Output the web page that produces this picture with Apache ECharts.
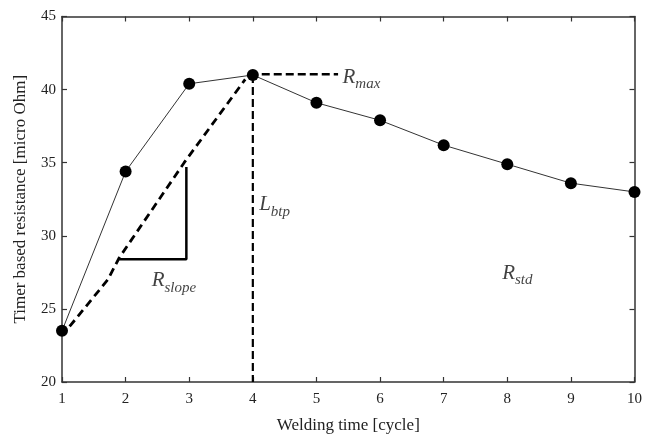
<!DOCTYPE html>
<html>
<head>
<meta charset="utf-8">
<script src="https://cdn.jsdelivr.net/npm/echarts@6/dist/echarts.min.js"></script>
<style>html,body{margin:0;padding:0;background:#fff;}#c{width:645px;height:439px;}</style>
</head>
<body>
<div id="c"></div>
<script>
var cycles = [1, 2, 3, 4, 5, 6, 7, 8, 9, 10];
var resistance = [23.5, 34.4, 40.4, 41.0, 39.1, 37.9, 36.2, 34.9, 33.6, 33.0];
var slopeLine = [[1.12, 23.8], [1.72, 27.0], [1.9, 28.5], [2.92, 35.0], [3.88, 40.7]];
var slopeTriangle = [[1.9, 28.4], [2.955, 28.4], [2.955, 34.7]];
var btpLine = [[4, 41.0], [4, 20]];
var maxLine = [[4.14, 41.05], [5.34, 41.05]];
var annotations = [
  {name: 'R', sub: 'max', x: 5.41, y: 40.8},
  {name: 'L', sub: 'btp', x: 4.1, y: 32.1},
  {name: 'R', sub: 'slope', x: 2.41, y: 26.9},
  {name: 'R', sub: 'std', x: 7.92, y: 27.4}
];
var xLabel = 'Welding time [cycle]';
var yLabel = 'Timer based resistance [micro Ohm]';

var chart = echarts.init(document.getElementById('c'), null, {renderer: 'canvas'});
var serif = '"Liberation Serif", "DejaVu Serif", serif';
var axisLine = {show: true, lineStyle: {color: '#333', width: 1.5}};
var tick = {show: true, inside: true, length: 5, lineStyle: {color: '#333', width: 1.2}};

chart.setOption({
  animation: false,
  backgroundColor: '#fff',
  grid: {left: 62, right: 6, top: 16.5, bottom: 56},
  xAxis: [{
    type: 'value', min: 1, max: 10, interval: 1,
    axisLine: axisLine, axisTick: tick, splitLine: {show: false},
    axisLabel: {color: '#222', fontFamily: serif, fontSize: 15, margin: 10},
    name: xLabel, nameLocation: 'middle', nameGap: 35,
    nameTextStyle: {color: '#222', fontFamily: serif, fontSize: 17}
  }, {
    type: 'value', position: 'top', min: 1, max: 10, interval: 1,
    axisLine: axisLine, axisTick: tick, axisLabel: {show: false}, splitLine: {show: false}
  }],
  yAxis: [{
    type: 'value', min: 20, max: 45, interval: 5,
    axisLine: axisLine, axisTick: tick, splitLine: {show: false},
    axisLabel: {color: '#222', fontFamily: serif, fontSize: 15, margin: 6},
    name: yLabel, nameLocation: 'middle', nameGap: 33, nameRotate: 90,
    nameTextStyle: {color: '#222', fontFamily: serif, fontSize: 17}
  }, {
    type: 'value', position: 'right', min: 20, max: 45, interval: 5,
    axisLine: axisLine, axisTick: tick, axisLabel: {show: false}, splitLine: {show: false}
  }],
  series: [
    {
      type: 'line', name: 'resistance', z: 5,
      data: cycles.map(function (c, i) { return [c, resistance[i]]; }),
      symbol: 'circle', symbolSize: 12,
      itemStyle: {color: '#000'},
      lineStyle: {color: '#333', width: 1}
    },
    {
      type: 'line', data: slopeLine, symbol: 'none',
      lineStyle: {color: '#000', width: 2.8, type: [8, 5]}
    },
    {
      type: 'line', data: slopeTriangle, symbol: 'none',
      lineStyle: {color: '#000', width: 2.5}
    },
    {
      type: 'line', data: btpLine, symbol: 'none',
      lineStyle: {color: '#000', width: 2.2, type: [8, 4]}
    },
    {
      type: 'line', data: maxLine, symbol: 'none',
      lineStyle: {color: '#000', width: 2.5, type: [8, 4]}
    },
    {
      type: 'scatter', symbolSize: 0, silent: true,
      data: annotations.map(function (a) { return {value: [a.x, a.y], name: a.name, sub: a.sub}; }),
      label: {
        show: true, position: 'right', distance: 0,
        formatter: function (p) { return '{m|' + p.data.name + '}{s|' + p.data.sub + '}'; },
        rich: {
          m: {fontFamily: serif, fontStyle: 'italic', fontSize: 21, color: '#111', verticalAlign: 'top', lineHeight: 22},
          s: {fontFamily: serif, fontStyle: 'italic', fontSize: 15, color: '#111', verticalAlign: 'top', lineHeight: 16, padding: [10, 0, 0, 0]}
        }
      }
    }
  ]
});
</script>
</body>
</html>
